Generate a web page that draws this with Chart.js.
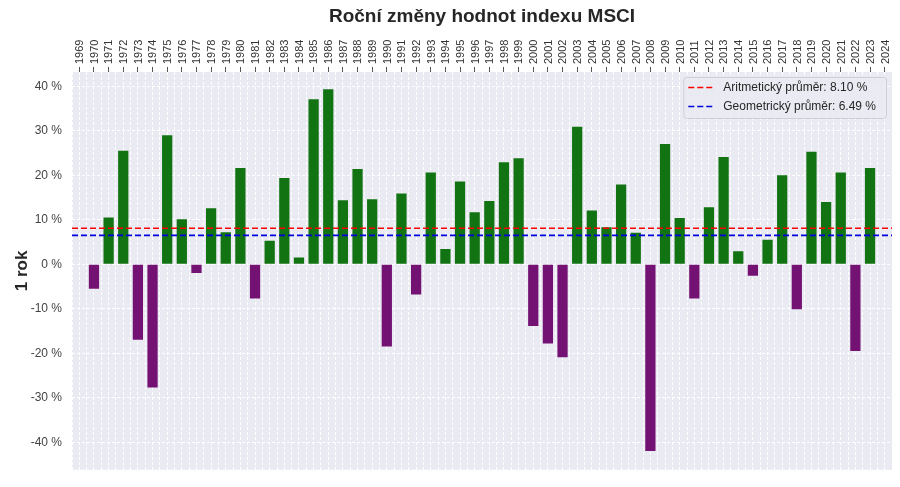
<!DOCTYPE html>
<html>
<head>
<meta charset="utf-8">
<script src="https://cdn.jsdelivr.net/npm/chart.js@4.4.1/dist/chart.umd.min.js"></script>
<style>
  html, body { margin: 0; padding: 0; background: #ffffff; }
  #wrap { width: 900px; height: 487px; }
</style>
</head>
<body>
<div id="wrap"><canvas id="c" width="900" height="487"></canvas></div>
<script>
const TITLE = 'Roční změny hodnot indexu MSCI';
const Y_TITLE = '1 rok';
const YEARS = ['1969','1970','1971','1972','1973','1974','1975','1976','1977','1978','1979',
  '1980','1981','1982','1983','1984','1985','1986','1987','1988','1989',
  '1990','1991','1992','1993','1994','1995','1996','1997','1998','1999',
  '2000','2001','2002','2003','2004','2005','2006','2007','2008','2009',
  '2010','2011','2012','2013','2014','2015','2016','2017','2018','2019',
  '2020','2021','2022','2023','2024'];
const RETURNS = [null, -5.5, 10.5, 25.5, -17.0, -27.7, 29.0, 10.1, -2.0, 12.6, 7.2,
  21.6, -7.7, 5.3, 19.4, 1.5, 37.1, 39.3, 14.4, 21.4, 14.6,
  -18.5, 15.9, -6.8, 20.6, 3.4, 18.6, 11.7, 14.2, 22.9, 23.8,
  -13.9, -17.8, -20.9, 30.9, 12.1, 8.3, 17.9, 7.1, -42.0, 27.0,
  10.4, -7.7, 12.8, 24.1, 2.9, -2.6, 5.5, 20.0, -10.1, 25.3,
  14.0, 20.6, -19.5, 21.6, null];
const ARITH_MEAN = 8.10;
const GEO_MEAN = 6.49;
const ARITH_LABEL = 'Aritmetický průměr: 8.10 %';
const GEO_LABEL = 'Geometrický průměr: 6.49 %';
const Y_TICKS = [-40, -30, -20, -10, 0, 10, 20, 30, 40];

const GREEN = '#127312';
const PURPLE = '#741274';
const FONT = '"Liberation Sans", Arial, Helvetica, sans-serif';

const bgPlugin = {
  id: 'plotBg',
  beforeDraw(chart) {
    const { ctx, chartArea: a } = chart;
    ctx.save();
    ctx.fillStyle = '#eaeaf2';
    ctx.fillRect(a.left, a.top, a.right - a.left, a.bottom - a.top);
    ctx.restore();
  }
};

const titlePlugin = {
  id: 'centerTitle',
  afterDraw(chart) {
    const { ctx, chartArea: a } = chart;
    ctx.save();
    ctx.font = 'bold 19px ' + FONT;
    ctx.fillStyle = '#262626';
    ctx.textAlign = 'center';
    ctx.textBaseline = 'middle';
    ctx.fillText(TITLE, (a.left + a.right) / 2, 17);
    ctx.restore();
  }
};

const legendPlugin = {
  id: 'innerLegend',
  afterDatasetsDraw(chart) {
    const { ctx, chartArea: a } = chart;
    const items = chart.data.datasets.filter(d => d.type === 'line');
    ctx.save();
    ctx.font = '12px ' + FONT;
    const tw = Math.max(...items.map(d => ctx.measureText(d.label).width));
    const right = a.right - 6;
    const top = a.top + 5;
    const w = tw + 50;
    const h = 41;
    const left = right - w;
    ctx.beginPath();
    if (ctx.roundRect) ctx.roundRect(left + 0.5, top + 0.5, w, h, 3); else ctx.rect(left + 0.5, top + 0.5, w, h);
    ctx.fillStyle = 'rgba(234,234,242,0.85)';
    ctx.fill();
    ctx.strokeStyle = '#cfcfd6';
    ctx.lineWidth = 1;
    ctx.stroke();
    items.forEach((d, i) => {
      const y = top + 10.5 + i * 19;
      ctx.beginPath();
      ctx.setLineDash(d.borderDash);
      ctx.strokeStyle = d.borderColor;
      ctx.lineWidth = d.borderWidth;
      ctx.moveTo(left + 5, y);
      ctx.lineTo(left + 31, y);
      ctx.stroke();
      ctx.setLineDash([]);
      ctx.fillStyle = '#262626';
      ctx.textAlign = 'left';
      ctx.textBaseline = 'middle';
      ctx.fillText(d.label, left + 40, y);
    });
    ctx.restore();
  }
};

new Chart(document.getElementById('c'), {
  type: 'bar',
  data: {
    labels: YEARS,
    datasets: [
      {
        type: 'bar',
        label: 'Roční změna',
        data: RETURNS,
        xAxisID: 'x',
        yAxisID: 'y',
        backgroundColor: ctx => (ctx.raw !== null && ctx.raw < 0 ? PURPLE : GREEN),
        borderWidth: 0,
        grouped: false,
        barPercentage: 0.7,
        categoryPercentage: 1.0,
        order: 2
      },
      {
        type: 'line',
        label: ARITH_LABEL,
        data: [{ x: 0, y: ARITH_MEAN }, { x: 1, y: ARITH_MEAN }],
        xAxisID: 'xm',
        yAxisID: 'y',
        borderColor: '#ff0000',
        borderWidth: 1.6,
        borderDash: [6, 3],
        pointRadius: 0,
        fill: false,
        order: 1
      },
      {
        type: 'line',
        label: GEO_LABEL,
        data: [{ x: 0, y: GEO_MEAN }, { x: 1, y: GEO_MEAN }],
        xAxisID: 'xm',
        yAxisID: 'y',
        borderColor: '#0000dd',
        borderWidth: 1.6,
        borderDash: [6, 3],
        pointRadius: 0,
        fill: false,
        order: 1
      }
    ]
  },
  options: {
    responsive: false,
    devicePixelRatio: 1,
    animation: false,
    layout: { padding: { left: 0, right: 8, top: 26, bottom: 9 } },
    plugins: {
      legend: { display: false },
      title: { display: false },
      tooltip: { enabled: false }
    },
    scales: {
      x: {
        type: 'category',
        position: 'top',
        offset: true,
        grid: {
          offset: false,
          color: '#ffffff',
          lineWidth: 1,
          drawTicks: true,
          tickLength: 5,
          tickColor: '#555555',
          tickWidth: 1
        },
        border: { display: false, dash: [3, 2] },
        ticks: {
          autoSkip: false,
          maxRotation: 90,
          minRotation: 90,
          padding: 3,
          labelOffset: 14,
          color: '#333333',
          font: { family: FONT, size: 11 }
        },
        afterFit(scale) { scale.height = 46; }
      },
      x2: {
        type: 'category',
        labels: YEARS,
        position: 'bottom',
        offset: true,
        grid: {
          offset: true,
          color: '#ffffff',
          lineWidth: 1,
          drawTicks: false
        },
        border: { display: false, dash: [3, 2] },
        ticks: { display: false },
        afterFit(scale) { scale.height = 0; }
      },
      xm: {
        type: 'linear',
        display: false,
        offset: false,
        grid: { offset: false },
        min: 0,
        max: 1
      },
      y: {
        type: 'linear',
        min: -46.2,
        max: 43.2,
        grid: {
          color: '#ffffff',
          lineWidth: 1,
          drawTicks: false
        },
        border: { display: false, dash: [3, 2] },
        ticks: {
          padding: 10,
          color: '#444444',
          font: { family: FONT, size: 12 },
          callback: v => v + ' %'
        },
        afterBuildTicks(scale) { scale.ticks = Y_TICKS.map(v => ({ value: v })); },
        title: {
          display: true,
          text: Y_TITLE,
          color: '#262626',
          font: { family: FONT, size: 17, weight: 'bold' },
          padding: { top: 12, bottom: 0 }
        },
        afterFit(scale) { scale.width = 72; }
      }
    }
  },
  plugins: [bgPlugin, titlePlugin, legendPlugin]
});
</script>
</body>
</html>
